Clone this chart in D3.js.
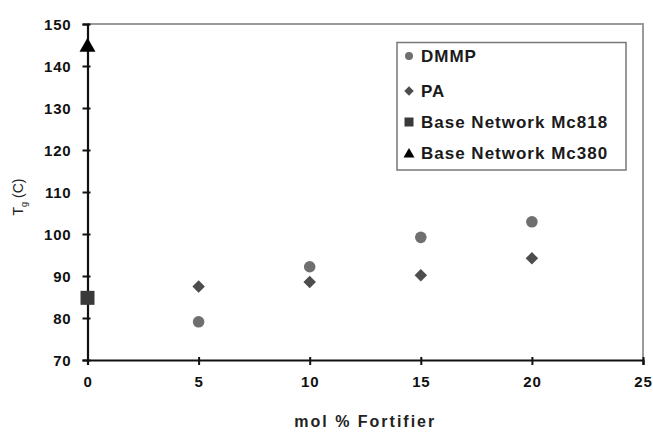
<!DOCTYPE html>
<html>
<head>
<meta charset="utf-8">
<script src="https://cdn.jsdelivr.net/npm/d3@7"></script>
<style>
  body { margin: 0; background: #fff; }
  svg { display: block; font-family: "Liberation Sans", Arial, sans-serif; }
</style>
</head>
<body>
<div id="chart"></div>
<script>
const fortifier = [5, 10, 15, 20];
const dmmp = [79.1, 92.2, 99.2, 102.9];
const pa = [87.5, 88.6, 90.2, 94.2];
const baseMc818 = [{x: 0, y: 84.8}];
const baseMc380 = [{x: 0, y: 144.8}];
const xTicks = [0, 5, 10, 15, 20, 25];
const yTicks = [70, 80, 90, 100, 110, 120, 130, 140, 150];
const legendNames = ["DMMP", "PA", "Base Network Mc818", "Base Network Mc380"];

let width = 653, height = 434,
    margin = {top: 24, right: 10, bottom: 74, left: 87.5};

let svg = d3.select("#chart").append("svg")
      .attr("width", width).attr("height", height);

let x = d3.scaleLinear().domain([0, 25]).range([margin.left, 643]),
    y = d3.scaleLinear().domain([70, 150]).range([height - margin.bottom, margin.top]);

// light frame on top and right
svg.append("path")
  .attr("d", "M" + x(0) + "," + y(150) + "H" + x(25) + "V" + y(70))
  .attr("fill", "none").attr("stroke", "#9a9a9a").attr("stroke-width", 2);

// axes
let xAxis = svg.append("g")
  .attr("transform", "translate(0," + y(70) + ")")
  .call(d3.axisBottom(x).tickValues(xTicks).tickSize(5).tickPadding(11));
let yAxis = svg.append("g")
  .attr("transform", "translate(" + x(0) + ",0)")
  .call(d3.axisLeft(y).tickValues(yTicks).tickSize(5).tickPadding(11));

[xAxis, yAxis].forEach(a => {
  a.select(".domain").attr("stroke", "#111").attr("stroke-width", 2.2);
  a.selectAll(".tick line").attr("stroke", "#111").attr("stroke-width", 2);
  a.selectAll(".tick text")
    .attr("fill", "#111").style("font-size", "15px").style("font-weight", "bold")
    .style("letter-spacing", "0.8px")
    .style("font-family", "'Liberation Sans', Arial, sans-serif");
});
// ticks crossing the axis slightly
xAxis.selectAll(".tick line").attr("y1", -3);
yAxis.selectAll(".tick line").attr("x1", 3);
yAxis.selectAll(".tick text").attr("dy", "0.36em");

// markers
svg.selectAll(".dmmp").data(fortifier).enter().append("circle")
  .attr("cx", d => x(d)).attr("cy", (d, i) => y(dmmp[i])).attr("r", 5.8)
  .attr("fill", "#6f6f6f");

svg.selectAll(".pa").data(fortifier).enter().append("path")
  .attr("d", d3.symbol().type(d3.symbolSquare).size(78))
  .attr("transform", (d, i) => "translate(" + x(d) + "," + y(pa[i]) + ") rotate(45)")
  .attr("fill", "#4d4d4d");

svg.selectAll(".b818").data(baseMc818).enter().append("rect")
  .attr("x", d => x(d.x) - 7).attr("y", d => y(d.y) - 7)
  .attr("width", 14).attr("height", 14).attr("fill", "#3a3a3a");

svg.selectAll(".b380").data(baseMc380).enter().append("path")
  .attr("d", "M0,-8L8,6L-8,6Z")
  .attr("transform", d => "translate(" + x(d.x) + "," + y(d.y) + ")")
  .attr("fill", "#000");

// legend
let lg = svg.append("g");
lg.append("rect").attr("x", 397).attr("y", 42.5).attr("width", 229).attr("height", 127.5)
  .attr("fill", "#fff").attr("stroke", "#777").attr("stroke-width", 1.5);

let rows = [56, 91, 122, 153];
legendNames.forEach((name, i) => {
  let cy = rows[i], mx = 409;
  if (i === 0) lg.append("circle").attr("cx", mx).attr("cy", cy).attr("r", 4).attr("fill", "#6f6f6f");
  if (i === 1) lg.append("path").attr("d", d3.symbol().type(d3.symbolSquare).size(45))
    .attr("transform", "translate(" + mx + "," + cy + ") rotate(45)").attr("fill", "#4d4d4d");
  if (i === 2) lg.append("rect").attr("x", mx - 4.5).attr("y", cy - 4.5).attr("width", 9).attr("height", 9).attr("fill", "#3a3a3a");
  if (i === 3) lg.append("path").attr("d", "M0,-5L5.5,4.5L-5.5,4.5Z")
    .attr("transform", "translate(" + mx + "," + cy + ")").attr("fill", "#000");
  lg.append("text").attr("x", 421).attr("y", cy).attr("dy", "0.36em")
    .style("font-size", "17px").style("font-weight", "bold").style("letter-spacing", "1px")
    .attr("fill", "#1a1a1a").text(name);
});

// axis titles
svg.append("text")
  .attr("x", (x(0) + x(25)) / 2).attr("y", 427).attr("text-anchor", "middle")
  .style("font-size", "16px").style("font-weight", "bold").style("letter-spacing", "2px")
  .attr("fill", "#222").text("mol % Fortifier");

let yl = svg.append("text")
  .attr("transform", "translate(23,197) rotate(-90)").attr("text-anchor", "middle")
  .style("font-size", "14px").attr("fill", "#222");
yl.append("tspan").text("T");
yl.append("tspan").attr("dy", 4).style("font-size", "9px").text("g");
yl.append("tspan").attr("dy", -4).text(" (C)");
</script>
</body>
</html>
